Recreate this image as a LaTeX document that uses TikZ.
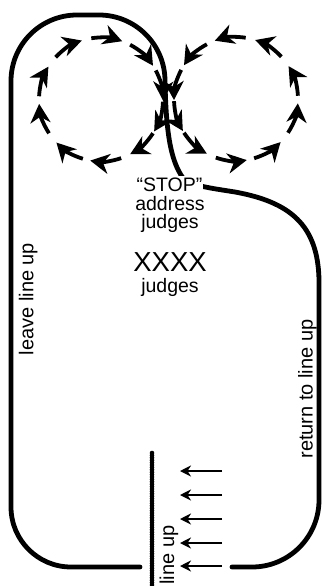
\documentclass[tikz,border=0pt]{standalone}
\usepackage{fontspec}
\setmainfont{Liberation Sans}
\usetikzlibrary{arrows.meta}
\begin{document}
\begin{tikzpicture}[x=1pt,y=-1pt,
  route/.style={line width=4.8pt, line cap=round},
  beads/.style={line width=4.6pt, line cap=round, dash pattern=on 0pt off 2.4pt},
  loopdash/.style={line width=3.8pt, -{Stealth[length=19pt,width=20pt,inset=6pt]}},
  queue/.style={line width=1.8pt, -{Stealth[length=11pt,width=11pt,inset=3.5pt]}},
  blocklbl/.style={font=\fontsize{19.5}{19.5}\selectfont, inner sep=0pt, anchor=base},
  sidelbl/.style={font=\fontsize{20}{20}\selectfont, inner sep=0pt, rotate=90}]
\useasboundingbox (0,0) rectangle (322,586);

% main route
\draw[route] (140,567) -- (71,567)
  arc[start angle=90, end angle=180, radius=60] -- (11,81)
  arc[start angle=180, end angle=270, radius=66] -- (99,15)
  arc[start angle=270, end angle=360, radius=66]
  .. controls (166,130) and (170,160) .. (183,178)
  .. controls (192,186) and (210,188) .. (235,192)
  .. controls (290,202) and (318,225) .. (319,280)
  -- (319,500)
  arc[start angle=0, end angle=90, radius=67] -- (232,567);

% line-up barrier
\coordinate (bartop) at (152,453);
\coordinate (barbot) at (152,590);
\draw[beads] (bartop) -- (barbot);

% figure-eight loops
\coordinate (lc) at (101,99.5);
\coordinate (rc) at (236,99);
\foreach \t [evaluate=\t as \s using \t-29] in {290,327,1,31,62,100,136,176,212,252}
  \draw[loopdash] ([shift={(\s:62)}]lc) arc[start angle=\s, end angle=\t, radius=62];
\foreach \t [evaluate=\t as \s using \t+29] in {250,213,179,149,118,80,44,4,328,288}
  \draw[loopdash] ([shift={(\s:62)}]rc) arc[start angle=\s, end angle=\t, radius=62];

% queue arrows
\foreach \i/\y in {1/471,2/495,3/519,4/543,5/566} {
  \coordinate (qs\i) at (222,\y);
  \coordinate (qe\i) at (180,\y);
  \draw[queue] (qs\i) -- (qe\i);
}

% labels
\node[blocklbl, fill=white, inner sep=1pt] (stop) at (169.5,191) {“STOP”};
\node[blocklbl] (addr) at (170,210) {address};
\node[blocklbl] (jud1) at (170,228) {judges};
\node[blocklbl, font=\fontsize{27.5}{27.5}\selectfont] (xxxx) at (170,271.5) {XXXX};
\node[blocklbl] (jud2) at (170,292.7) {judges};
\node[sidelbl] (leave) at (28.3,299) {leave line up};
\node[sidelbl] (ret) at (307.5,389) {return to line up};
\node[sidelbl] (lineup) at (169,555) {line up};
\end{tikzpicture}
\end{document}
